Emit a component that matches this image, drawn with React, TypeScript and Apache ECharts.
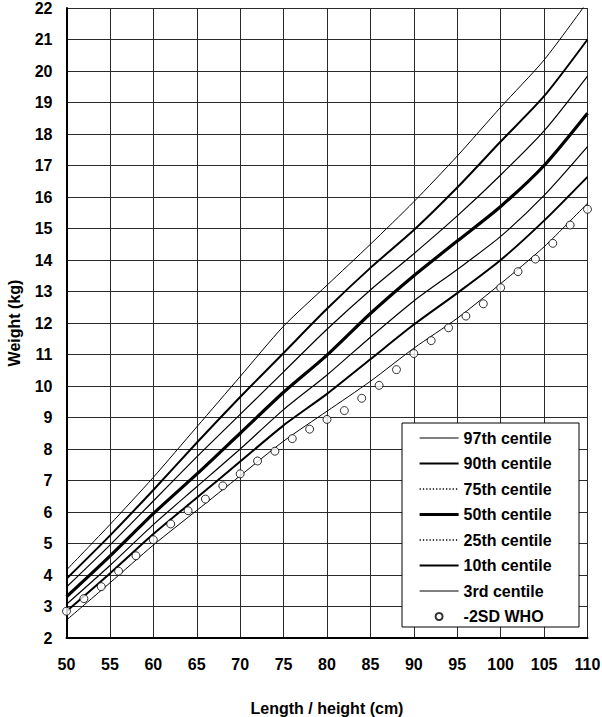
import React, { useEffect, useRef } from "react";
import * as echarts from "echarts";

// Length / height (cm) at which the centile curves are given
const lengths = [50, 55, 60, 65, 70, 75, 80, 85, 90, 95, 100, 105, 110];

// Centile curves, weight (kg)
const p97 = [4.16, 5.6, 7.1, 8.7, 10.3, 11.9, 13.2, 14.5, 15.85, 17.3, 18.85, 20.35, 22.2];
const p90 = [3.88, 5.25, 6.7, 8.2, 9.65, 11.05, 12.45, 13.75, 14.95, 16.3, 17.76, 19.2, 21.0];
const p75 = [3.62, 4.95, 6.35, 7.75, 9.1, 10.45, 11.8, 13.05, 14.2, 15.4, 16.7, 18.1, 19.84];
const p50 = [3.31, 4.6, 5.95, 7.2, 8.5, 9.8, 10.98, 12.3, 13.5, 14.6, 15.7, 17.0, 18.66];
const p25 = [3.07, 4.3, 5.6, 6.8, 8.0, 9.25, 10.35, 11.55, 12.7, 13.7, 14.75, 16.05, 17.6];
const p10 = [2.85, 4.05, 5.3, 6.45, 7.6, 8.75, 9.75, 10.85, 11.95, 12.95, 14.0, 15.25, 16.64];
const p3 = [2.57, 3.75, 4.95, 6.05, 7.15, 8.25, 9.2, 10.15, 11.2, 12.15, 13.25, 14.42, 15.8];

// WHO -2SD reference points
const whoLengths = [
  50, 52, 54, 56, 58, 60, 62, 64, 66, 68, 70, 72, 74, 76, 78, 80, 82, 84, 86, 88, 90, 92, 94, 96,
  98, 100, 102, 104, 106, 108, 110,
];
const whoMinus2SD = [
  2.85, 3.25, 3.63, 4.12, 4.61, 5.12, 5.62, 6.04, 6.41, 6.83, 7.21, 7.62, 7.93, 8.33, 8.63, 8.94,
  9.22, 9.61, 10.02, 10.52, 11.03, 11.44, 11.85, 12.22, 12.61, 13.12, 13.63, 14.03, 14.53, 15.11,
  15.61,
];

const seriesNames = [
  "97th centile",
  "90th centile",
  "75th centile",
  "50th centile",
  "25th centile",
  "10th centile",
  "3rd centile",
];
const seriesValues = [p97, p90, p75, p50, p25, p10, p3];
const seriesWidths = [1, 2, 1.2, 3.2, 1.2, 2, 1];
const legendDotted = [false, false, true, false, true, false, false];
const whoName = "-2SD WHO";

const FONT = "'Liberation Sans', Arial, Helvetica, sans-serif";

export default function App() {
  const ref = useRef<HTMLDivElement>(null);

  useEffect(() => {
    document.body.style.margin = "0";
    const chart = echarts.init(ref.current!, null, { renderer: "svg" });

    const lineSeries = seriesNames.map((name, k) => ({
      name,
      type: "line",
      data: lengths.map((x, i) => [x, seriesValues[k][i]]),
      symbol: "none",
      smooth: 0.25,
      clip: true,
      z: 2,
      lineStyle: { color: "#000", width: seriesWidths[k], type: "solid" },
      itemStyle: { color: "#000", opacity: 0 },
      emphasis: { disabled: true },
    }));

    const legendData = [
      ...seriesNames.map((name, k) => ({
        name,
        itemStyle: { opacity: 0 },
        lineStyle: legendDotted[k]
          ? { type: [1.3, 2], width: 1.3, color: "#000", opacity: 1 }
          : { type: "solid", width: seriesWidths[k], color: "#000", opacity: 1 },
      })),
      { name: whoName, icon: "circle" },
    ];

    chart.setOption({
      animation: false,
      backgroundColor: "#fff",
      grid: {
        left: 66.5,
        right: 14.5,
        top: 8,
        bottom: 79,
        containLabel: false,
        outerBoundsMode: "none",
      },
      xAxis: {
        type: "value",
        min: 50,
        max: 110,
        interval: 5,
        name: "Length / height (cm)",
        nameLocation: "middle",
        nameGap: 62,
        nameTextStyle: { fontFamily: FONT, fontWeight: "bold", fontSize: 16, color: "#000" },
        axisLine: { show: true, onZero: false, lineStyle: { color: "#000", width: 2 } },
        axisTick: { show: false },
        axisLabel: {
          margin: 18,
          fontFamily: FONT,
          fontWeight: "bold",
          fontSize: 16,
          color: "#000",
        },
        splitLine: { show: true, lineStyle: { color: "#2a2a2a", width: 1 } },
      },
      yAxis: {
        type: "value",
        min: 2,
        max: 22,
        interval: 1,
        name: "Weight (kg)",
        nameLocation: "middle",
        nameRotate: 90,
        nameGap: 44,
        nameTextStyle: { fontFamily: FONT, fontWeight: "bold", fontSize: 16, color: "#000" },
        axisLine: { show: true, onZero: false, lineStyle: { color: "#000", width: 2 } },
        axisTick: { show: false },
        axisLabel: {
          margin: 14,
          fontFamily: FONT,
          fontWeight: "bold",
          fontSize: 16,
          color: "#000",
        },
        splitLine: { show: true, lineStyle: { color: "#2a2a2a", width: 1 } },
      },
      legend: {
        orient: "vertical",
        left: 402,
        top: 423,
        padding: [7, 20, 3, 16],
        itemWidth: 39,
        itemHeight: 7,
        itemGap: 9.5,
        selectedMode: false,
        z: 4,
        textStyle: {
          fontFamily: FONT,
          fontWeight: "bold",
          fontSize: 16,
          color: "#000",
          lineHeight: 16,
        },
        data: legendData,
      },
      graphic: [
        {
          type: "rect",
          z: 3,
          shape: { x: 402, y: 423, width: 177, height: 204 },
          style: { fill: "#fff", stroke: "#000", lineWidth: 1 },
        },
      ],
      series: [
        ...lineSeries,
        {
          name: whoName,
          type: "scatter",
          data: whoLengths.map((x, i) => [x, whoMinus2SD[i]]),
          symbol: "circle",
          symbolSize: 8,
          z: 3,
          itemStyle: { color: "#fff", borderColor: "#000", borderWidth: 1 },
          emphasis: { disabled: true },
        },
      ],
    });

    return () => chart.dispose();
  }, []);

  return <div ref={ref} style={{ width: 602, height: 717 }} />;
}
